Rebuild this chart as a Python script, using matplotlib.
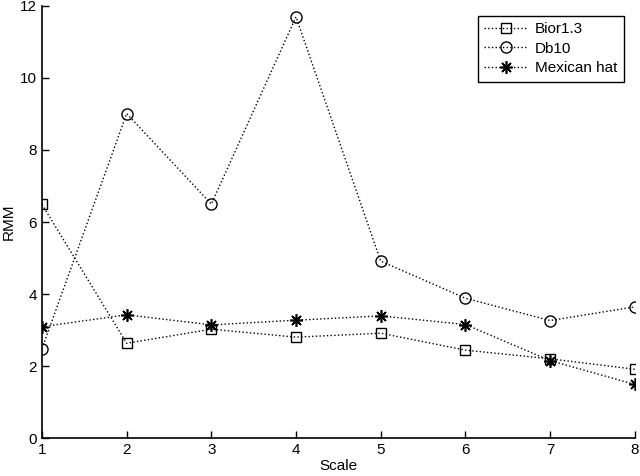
import matplotlib
matplotlib.use('Agg')
import matplotlib.pyplot as plt

# data
scale = [1, 2, 3, 4, 5, 6, 7, 8]
bior = [6.49, 2.64, 3.03, 2.81, 2.92, 2.45, 2.21, 1.92]
db10 = [2.49, 9.01, 6.50, 11.69, 4.92, 3.89, 3.27, 3.65]
mexhat = [3.10, 3.43, 3.15, 3.28, 3.40, 3.16, 2.16, 1.50]

plt.rcParams['font.family'] = ['Liberation Sans', 'DejaVu Sans']
plt.rcParams['font.size'] = 11

fig = plt.figure(figsize=(6.4, 4.76), dpi=100)
ax = fig.add_axes([0.0656, 0.0788, 0.9261, 0.9092])

ax.plot(scale, bior, ls=':', color='black', lw=1, marker='s', ms=6.5, mfc='none', mec='black', mew=1, label='Bior1.3')
ax.plot(scale, db10, ls=':', color='black', lw=1, marker='o', ms=8, mfc='none', mec='black', mew=1, label='Db10')
# matlab style asterisk: 8 spokes
ax.plot(scale, mexhat, ls=':', color='black', lw=1, marker=(8, 2, 0), ms=9, mec='black', mew=1.2, label='Mexican hat')

ax.set_xlim(1, 8)
ax.set_ylim(0, 12)
ax.set_xticks(scale)
ax.set_yticks([0, 2, 4, 6, 8, 10, 12])
ax.spines['top'].set_visible(False)
ax.spines['right'].set_visible(False)
ax.spines['left'].set_linewidth(1.2)
ax.spines['bottom'].set_linewidth(1.2)
ax.tick_params(direction='in', length=5, width=1)
ax.set_xlabel('Scale', labelpad=1)
ax.set_ylabel('RMM', labelpad=3)

leg = ax.legend(loc='upper right', bbox_to_anchor=(0.995, 0.995), fancybox=False, framealpha=1,
                edgecolor='black', handlelength=2.8, borderpad=0.45, labelspacing=0.35, handletextpad=0.5)
leg.get_frame().set_linewidth(1)

fig.savefig('out.png', dpi=100)
